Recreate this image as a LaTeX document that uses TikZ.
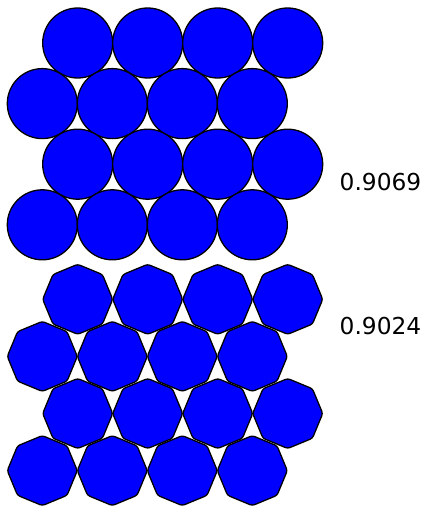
\documentclass[tikz,border=0pt]{standalone}
\usepackage{fontspec}
\setmainfont{DejaVu Sans}

\begin{document}
\begin{tikzpicture}[x=1pt,y=-1pt]
\tikzset{disk/.style={draw=black,fill=blue,line width=1.3pt},
  octa/.style={draw=black,fill=blue,line width=1.3pt,rounded corners=2.5pt},
  rate/.style={font=\fontsize{23.3}{28}\selectfont,inner sep=0pt}}

\useasboundingbox (0,0) rectangle (428,506);

% circles
\foreach \r in {0,...,3}{
  \pgfmathsetmacro{\xo}{isodd(\r) ? 42.3 : 77.7}
  \foreach \k in {0,...,3}
    \draw[disk] (\xo+70*\k, 43+60.6*\r) circle[radius=35];
}

% smoothed octagons
\foreach \r in {0,...,3}{
  \pgfmathsetmacro{\xo}{isodd(\r) ? 42.3 : 77.7}
  \foreach \k in {0,...,3}
    \draw[octa,shift={(\xo+70*\k, 299.3+57.1*\r)}]
      (0:35) -- (45:35) -- (90:35) -- (135:35) -- (180:35)
      -- (225:35) -- (270:35) -- (315:35) -- cycle;
}

\node[rate] (diskrate) at (380.5,182) {0.9069};
\node[rate] (octarate) at (380.5,326.5) {0.9024};

\end{tikzpicture}
\end{document}
